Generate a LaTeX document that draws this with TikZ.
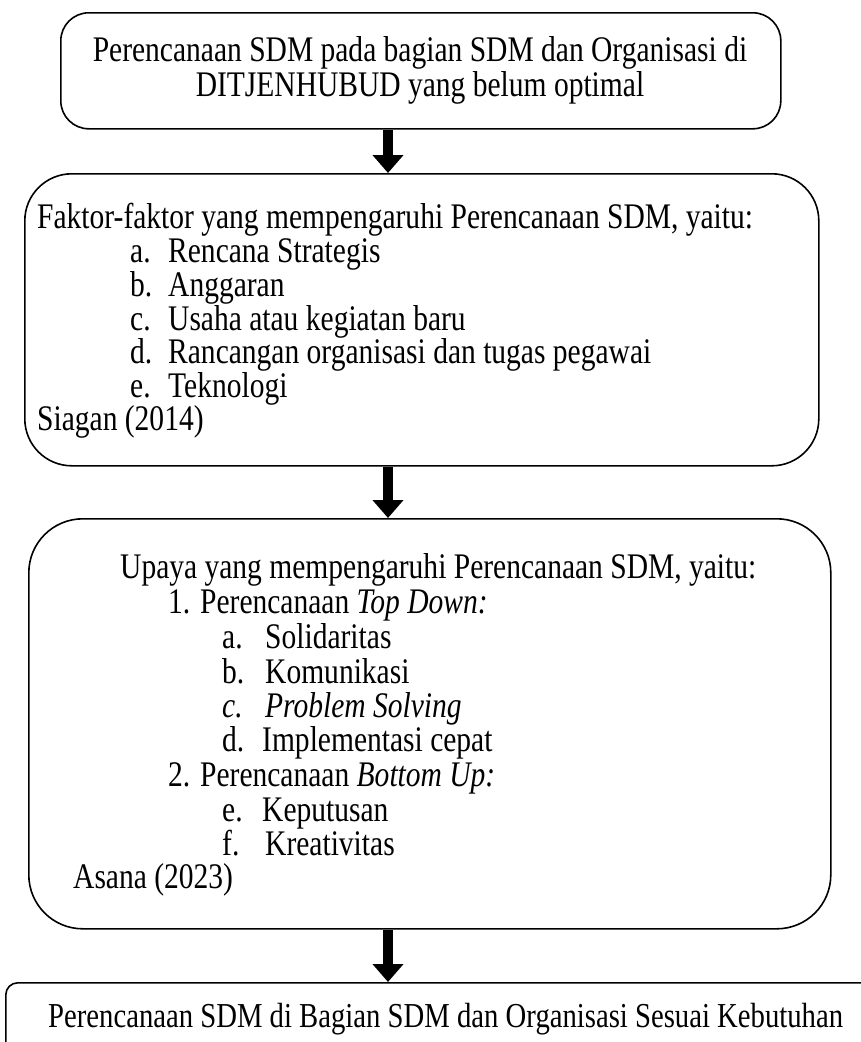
\documentclass[tikz,border=0pt]{standalone}
\usepackage{fontspec}
\setmainfont{Liberation Serif}[FakeStretch=0.82]
\usetikzlibrary{arrows.meta}
\tikzset{
  box/.style={draw=black, line width=1.6pt, inner sep=0pt},
  txt/.style={anchor=base west, inner sep=0pt, font=\fontsize{36}{40}\selectfont},
  ctxt/.style={anchor=base, inner sep=0pt, font=\fontsize{36}{40}\selectfont},
  fat/.style={line width=10.5pt, -{Triangle[width=30pt,length=18pt]}},
}
\begin{document}
\begin{tikzpicture}[x=1pt,y=-1pt]
\useasboundingbox (0,0) rectangle (861,1042);
\clip (0,0) rectangle (861,1042);
\fill[white] (0,0) rectangle (861,1042);
% boxes
\node[box, rounded corners=28pt, minimum width=720pt, minimum height=116pt, anchor=north west] (b1) at (60,12) {};
\node[box, rounded corners=47pt, minimum width=794pt, minimum height=292pt, anchor=north west] (b2) at (24,173) {};
\node[box, rounded corners=54pt, minimum width=802pt, minimum height=410pt, anchor=north west] (b3) at (28,518) {};
\node[box, rounded corners=12pt, minimum width=900pt, minimum height=140pt, anchor=north west] (b4) at (5,982) {};
% connectors
\coordinate (x) at (388,0);
\draw[fat] (b1.south -| x) -- (b2.north -| x);
\draw[fat] (b2.south -| x) -- (b3.north -| x);
\draw[fat] (b3.south -| x) -- (b4.north -| x);
% box 1 text
\node[ctxt] (t1a) at (420,61) {Perencanaan SDM pada bagian SDM dan Organisasi di};
\node[ctxt] (t1b) at (420,96) {DITJENHUBUD yang belum optimal};
% box 2 text
\node[txt] (t2) at (37,228) {Faktor-faktor yang mempengaruhi Perencanaan SDM, yaitu:};
\node[txt] (l2a) at (130,262) {a.};  \node[txt] (i2a) at (168,262) {Rencana Strategis};
\node[txt] (l2b) at (130,296) {b.};  \node[txt] (i2b) at (168,296) {Anggaran};
\node[txt] (l2c) at (130,330) {c.};  \node[txt] (i2c) at (168,330) {Usaha atau kegiatan baru};
\node[txt] (l2d) at (130,363) {d.};  \node[txt] (i2d) at (168,363) {Rancangan organisasi dan tugas pegawai};
\node[txt] (l2e) at (130,397) {e.};  \node[txt] (i2e) at (168,397) {Teknologi};
\node[txt] (s2) at (37,430) {Siagan (2014)};
% box 3 text
\node[txt] (t3) at (120,578) {Upaya yang mempengaruhi Perencanaan SDM, yaitu:};
\node[txt] (n31) at (168,613) {1. Perencanaan \textit{Top Down:}};
\node[txt] (l3a) at (222,648) {a.};  \node[txt] (i3a) at (265,648) {Solidaritas};
\node[txt] (l3b) at (222,683) {b.};  \node[txt] (i3b) at (265,683) {Komunikasi};
\node[txt] (l3c) at (222,717) {\textit{c.}};  \node[txt] (i3c) at (265,717) {\textit{Problem Solving}};
\node[txt] (l3d) at (222,751) {d.};  \node[txt] (i3d) at (262,751) {Implementasi cepat};
\node[txt] (n32) at (168,786) {2. Perencanaan \textit{Bottom Up:}};
\node[txt] (l3e) at (222,821) {e.};  \node[txt] (i3e) at (262,821) {Keputusan};
\node[txt] (l3f) at (222,855) {f.};  \node[txt] (i3f) at (265,855) {Kreativitas};
\node[txt] (s3) at (73,888) {Asana (2023)};
% box 4 text
\node[txt, font=\fontsize{35}{40}\selectfont] (t4) at (48,1027) {Perencanaan SDM di Bagian SDM dan Organisasi Sesuai Kebutuhan};
\end{tikzpicture}
\end{document}
